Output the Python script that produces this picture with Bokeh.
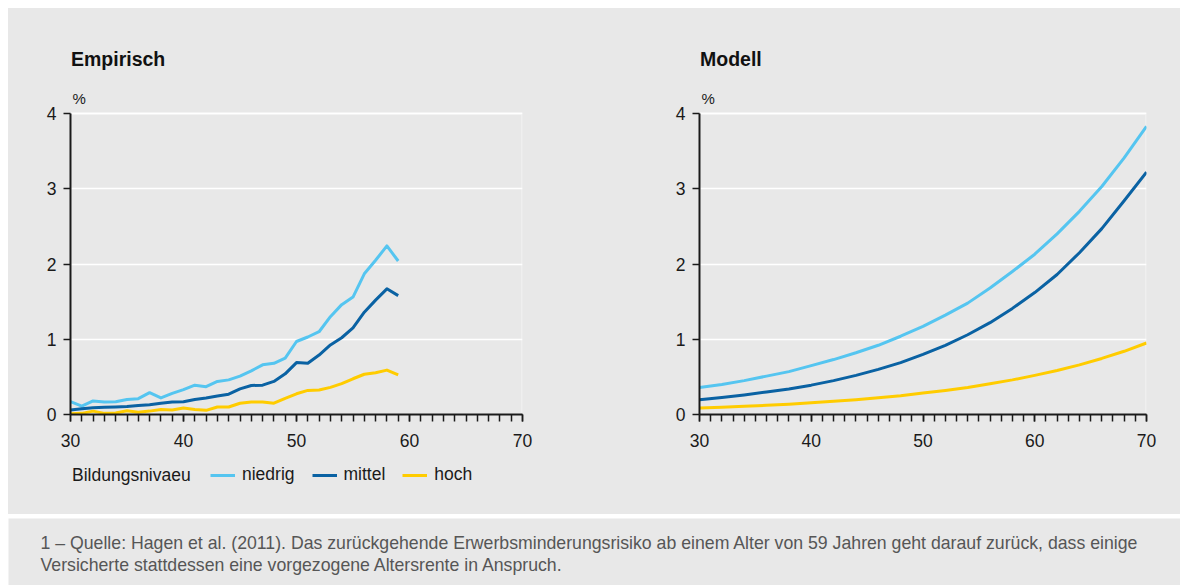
from bokeh.plotting import figure
from bokeh.models import (FixedTicker, Label, Legend, LegendItem, Range1d,
                          BoxAnnotation, Spacer)
from bokeh.layouts import column, row
from bokeh.embed import file_html
from bokeh.resources import INLINE

FONT = "Liberation Sans"
BG = "#e8e8e8"
C_NIEDRIG = "#55c5f0"
C_MITTEL = "#0a62a3"
C_HOCH = "#ffcc00"
INK = "#1a1a1a"

# ---- data -------------------------------------------------------------
emp_age = list(range(30, 60))
emp_niedrig = [0.17, 0.11, 0.18, 0.165, 0.17, 0.20, 0.21, 0.29, 0.22, 0.28,
               0.33, 0.39, 0.37, 0.44, 0.46, 0.51, 0.58, 0.66, 0.68, 0.75,
               0.97, 1.03, 1.10, 1.30, 1.46, 1.56, 1.87, 2.05, 2.24, 2.04]
emp_mittel = [0.06, 0.075, 0.09, 0.095, 0.10, 0.105, 0.12, 0.13, 0.15, 0.165,
              0.17, 0.20, 0.22, 0.245, 0.27, 0.34, 0.385, 0.39, 0.44, 0.54,
              0.69, 0.68, 0.79, 0.925, 1.02, 1.15, 1.36, 1.52, 1.67, 1.58]
emp_hoch = [0.01, 0.015, 0.045, 0.015, 0.02, 0.05, 0.03, 0.045, 0.065, 0.06,
            0.085, 0.065, 0.055, 0.10, 0.10, 0.15, 0.165, 0.165, 0.15, 0.215,
            0.275, 0.32, 0.325, 0.36, 0.41, 0.475, 0.535, 0.555, 0.59, 0.525]

mod_age = list(range(30, 71, 2))
mod_niedrig = [0.36, 0.40, 0.45, 0.51, 0.57, 0.65, 0.73, 0.82, 0.92, 1.04, 1.17,
               1.32, 1.48, 1.68, 1.90, 2.13, 2.40, 2.70, 3.03, 3.41, 3.83]
mod_mittel = [0.195, 0.225, 0.26, 0.30, 0.34, 0.39, 0.45, 0.52, 0.60, 0.69, 0.80,
              0.92, 1.06, 1.22, 1.41, 1.62, 1.86, 2.15, 2.47, 2.84, 3.22]
mod_hoch = [0.085, 0.096, 0.108, 0.122, 0.137, 0.155, 0.175, 0.197, 0.222, 0.25, 0.285,
            0.32, 0.36, 0.41, 0.46, 0.52, 0.585, 0.66, 0.745, 0.84, 0.95]

series_labels = ["niedrig", "mittel", "hoch"]
series_colors = [C_NIEDRIG, C_MITTEL, C_HOCH]
x_major = [30, 40, 50, 60, 70]
x_minor = list(range(30, 71))
y_major = [0, 1, 2, 3, 4]
x_lim = (30, 70)
y_lim = (0, 4)

legend_title = "Bildungsnivaeu"
footnote_1 = ("1 \u2013 Quelle: Hagen et al. (2011). Das zur\u00fcckgehende Erwerbsminderungsrisiko ab einem "
              "Alter von 59 Jahren geht darauf zur\u00fcck, dass einige")
footnote_2 = "Versicherte stattdessen eine vorgezogene Altersrente in Anspruch."

# frame: y=0 sits at the frame bottom; the frame reaches up to the panel top so
# that the titles live inside it. 301 px correspond to 4 units, frame is 406 px.
Y_TOP = 4 * 406 / 301


def make_fig(width, bl, br, title):
    p = figure(width=width, height=452, title=None,
               x_range=Range1d(*x_lim), y_range=Range1d(0, Y_TOP),
               output_backend="svg", toolbar_location=None,
               min_border_left=bl, min_border_right=br, min_border_top=0, min_border_bottom=46,
               background_fill_color=BG, border_fill_color=BG, outline_line_color=None)
    p.xgrid.grid_line_color = None
    p.ygrid.grid_line_color = "white"
    p.ygrid.grid_line_width = 1.5
    p.ygrid.ticker = FixedTicker(ticks=y_major)

    # white plot-area border (right / top edges)
    p.add_layout(BoxAnnotation(left=x_lim[0], right=x_lim[1], bottom=y_lim[0], top=y_lim[1],
                               fill_alpha=0, line_color="white", line_width=3, level="underlay"))

    p.xaxis.ticker = FixedTicker(ticks=x_major, minor_ticks=x_minor)
    p.yaxis.ticker = FixedTicker(ticks=y_major)
    p.yaxis.bounds = y_lim
    for ax in (p.xaxis[0], p.yaxis[0]):
        ax.axis_line_color = INK
        ax.axis_line_width = 2
        ax.major_tick_line_color = INK
        ax.major_tick_line_width = 1.5
        ax.minor_tick_line_color = INK
        ax.minor_tick_line_width = 1.5
        ax.major_tick_in = 0
        ax.major_tick_out = 7
        ax.minor_tick_in = 0
        ax.major_label_text_font = FONT
        ax.major_label_text_font_size = "17.5px"
        ax.major_label_text_color = INK
    p.xaxis.minor_tick_out = 7
    p.yaxis.minor_tick_out = 0
    p.xaxis.major_label_standoff = 12
    p.yaxis.major_label_standoff = 7

    p.add_layout(Label(x=0.5, y=356, x_units="screen", y_units="screen", text=title,
                       text_font=FONT, text_font_size="19.5px", text_font_style="bold",
                       text_color="#111111", text_baseline="alphabetic"))
    p.add_layout(Label(x=2, y=316, x_units="screen", y_units="screen", text="%",
                       text_font=FONT, text_font_size="15px",
                       text_color=INK, text_baseline="alphabetic"))
    return p


pA = make_fig(582, 62, 68, "Empirisch")
for vals, col in zip([emp_niedrig, emp_mittel, emp_hoch], series_colors):
    pA.line(emp_age, vals, line_color=col, line_width=3, line_join="round")

pB = make_fig(590, 109, 34, "Modell")
for vals, col in zip([mod_niedrig, mod_mittel, mod_hoch], series_colors):
    pB.line(mod_age, vals, line_color=col, line_width=3, line_join="round")

# ---- legend strip -----------------------------------------------------
# The strip shows only the legend: its ranges keep the series themselves out of view.
leg = figure(width=1172, height=54, x_range=Range1d(0, 1172), y_range=Range1d(100, 154),
             x_axis_type=None, y_axis_type=None, output_backend="svg", toolbar_location=None,
             min_border=0, background_fill_color=BG, border_fill_color=BG, outline_line_color=None)
leg.grid.visible = False
leg_renderers = [leg.line(emp_age, vals, line_color=c, line_width=3)
                 for vals, c in zip([emp_niedrig, emp_mittel, emp_hoch], series_colors)]
leg.add_layout(Label(x=63.5, y=40, x_units="screen", y_units="screen", text=legend_title,
                     text_font=FONT, text_font_size="17.5px", text_color=INK,
                     text_baseline="middle"))
legend = Legend(items=[LegendItem(label=lab, renderers=[r]) for lab, r in zip(series_labels, leg_renderers)],
                orientation="horizontal", location=(202, 29), padding=0, margin=0, spacing=17,
                glyph_width=25, glyph_height=20, label_standoff=7, label_height=20,
                label_text_font=FONT, label_text_font_size="17.5px", label_text_color=INK,
                label_text_baseline="middle",
                border_line_alpha=0, background_fill_alpha=0)
leg.add_layout(legend)

# ---- footnote ---------------------------------------------------------
foot = figure(width=1172, height=67, x_range=Range1d(0, 1172), y_range=Range1d(0, 67),
              x_axis_type=None, y_axis_type=None, output_backend="svg", toolbar_location=None,
              min_border=0, background_fill_color=BG, border_fill_color=BG, outline_line_color=None)
foot.grid.visible = False
foot.add_layout(Label(x=32, y=43, x_units="screen", y_units="screen", text=footnote_1,
                      text_font=FONT, text_font_size="17.7px", text_color="#565656",
                      text_baseline="middle"))
foot.add_layout(Label(x=32, y=21, x_units="screen", y_units="screen", text=footnote_2,
                      text_font=FONT, text_font_size="17.7px", text_color="#565656",
                      text_baseline="middle"))

bg = {"background-color": BG}
top = column(row(pA, pB, spacing=0, styles=bg), leg, spacing=0, styles=bg)
layout = column(top, Spacer(height=4), foot, spacing=0, margin=(8, 0, 0, 8))
open("out.html", "w").write(file_html(layout, INLINE))
